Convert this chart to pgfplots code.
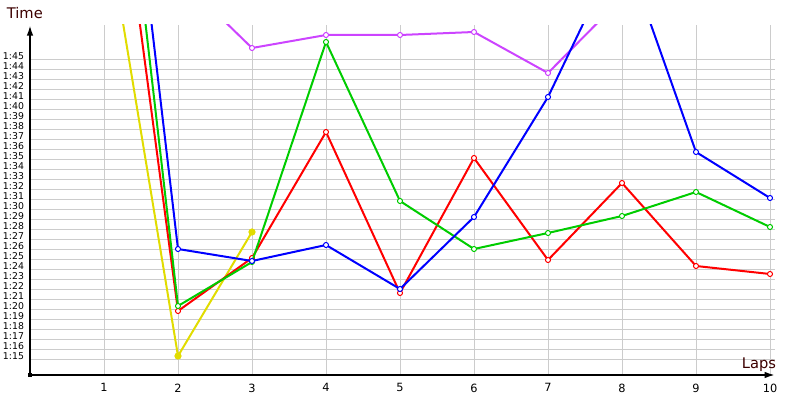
\documentclass[border=0pt]{standalone}
\usepackage{fontspec}
\setmainfont{DejaVu Sans}
\usepackage{pgfplots}
\pgfplotsset{compat=1.18}
\usetikzlibrary{arrows.meta}

\definecolor{lapblue}{RGB}{0,0,255}
\definecolor{lapred}{RGB}{255,0,0}
\definecolor{lapgreen}{RGB}{0,204,0}
\definecolor{lapyellow}{RGB}{225,220,0}
\definecolor{lappurple}{RGB}{204,68,255}
\definecolor{labelred}{RGB}{60,0,0}
\definecolor{gridgray}{RGB}{204,204,204}

\begin{document}
\begin{tikzpicture}
\begin{axis}[
    x=55.5pt, y=7.5pt,
    xmin=0, xmax=10.07,
    ymin=73.5, ymax=108.5,
    axis lines=left,
    axis line style={line width=1.5pt, -{Latex[length=8pt,width=5pt]}},
    clip mode=individual,
    /pgf/number format/assume math mode=true,
    xtick={1,...,10},
    xticklabel={\pgfmathprintnumber{\tick}},
    ytick={75,...,105},
    yticklabel={1:\pgfmathparse{int(\tick-60)}\pgfmathresult},
    major tick length=0pt,
    grid=major,
    grid style={color=gridgray, line width=0.75pt},
    xticklabel style={font=\fontsize{8.5}{9}\selectfont, yshift=-3pt},
    yticklabel style={font=\fontsize{7}{8}\selectfont, yshift=3pt, xshift=-1pt},
    every axis plot/.append style={line width=1.5pt, mark=*, mark size=1.9pt,
        mark options={fill=white, line width=0.75pt}},
]

% yellow
\addplot[color=lapyellow, mark options={fill=lapyellow}] coordinates {
    (1,120.2) (2,75.4) (3,87.8)
};
% purple
\addplot[color=lappurple] coordinates {
    (2,113.4) (3,106.2) (4,107.5) (5,107.5) (6,107.8) (7,103.7) (8,111.2)
};
% red
\addplot[color=lapred] coordinates {
    (1,135.6) (2,79.9) (3,85.2) (4,97.8) (5,81.7) (6,95.2) (7,85.0) (8,92.7) (9,84.4) (10,83.6)
};
% green
\addplot[color=lapgreen] coordinates {
    (1,144.7) (2,80.4) (3,84.8) (4,106.8) (5,90.9) (6,86.1) (7,87.7) (8,89.4) (9,91.8) (10,88.3)
};
% blue
\addplot[color=lapblue] coordinates {
    (1,149.1) (2,86.1) (3,84.9) (4,86.5) (5,82.1) (6,89.3) (7,101.3) (8,116.7) (9,95.8) (10,91.2)
};

\node[anchor=base, text=labelred, font=\fontsize{11}{13}\selectfont] at (axis cs:-0.07,109.1) {Time};
\node[anchor=base, text=labelred, font=\fontsize{11}{13}\selectfont] at (axis cs:9.85,74.2) {Laps};
\fill[black] (axis cs:0,73.5) ++(-1.5pt,-1.5pt) rectangle ++(3pt,3pt);

\coordinate (bl) at (axis cs:-0.4054,71);
\coordinate (tr) at (axis cs:10.4054,111);
\end{axis}
\pgfresetboundingbox
\path[use as bounding box] (bl) rectangle (tr);
\end{tikzpicture}
\end{document}
